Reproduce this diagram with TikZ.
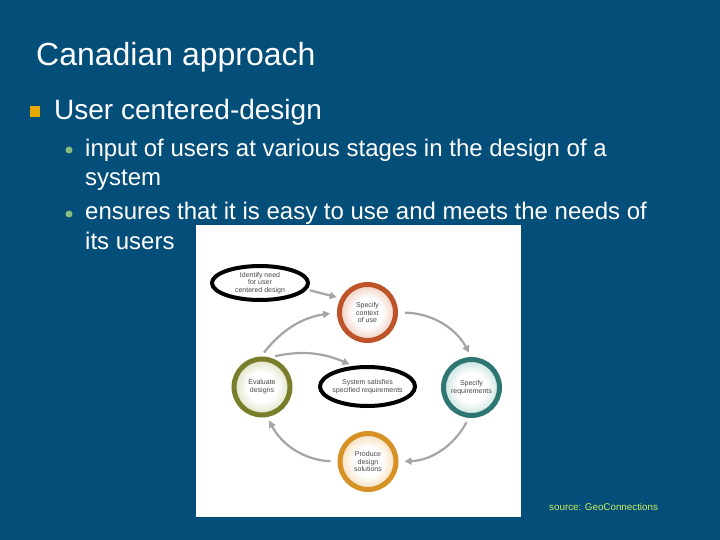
\documentclass[tikz,border=0pt]{standalone}
\usepackage{fontspec}
\setmainfont{Liberation Sans}
\usetikzlibrary{shapes.geometric,arrows.meta}
\definecolor{bgblue}{RGB}{4,78,122}
\definecolor{rust}{RGB}{190,82,40}
\definecolor{olive}{RGB}{122,126,42}
\definecolor{tealc}{RGB}{45,118,114}
\definecolor{gold}{RGB}{214,146,36}
\definecolor{rustpale}{RGB}{240,205,190}
\definecolor{olivepale}{RGB}{222,226,196}
\definecolor{tealpale}{RGB}{200,226,222}
\definecolor{goldpale}{RGB}{246,222,186}
\definecolor{arrgray}{RGB}{165,165,165}
\definecolor{sqyellow}{RGB}{230,170,0}
\definecolor{dotgreen}{RGB}{140,190,130}
\definecolor{srcgreen}{RGB}{205,238,90}
\definecolor{txtgray}{RGB}{70,70,70}
\pgfdeclareradialshading{rustshade}{\pgfpoint{0bp}{0bp}}{color(0bp)=(white); color(13bp)=(white); color(25bp)=(rustpale); color(50bp)=(rustpale)}
\pgfdeclareradialshading{oliveshade}{\pgfpoint{0bp}{0bp}}{color(0bp)=(white); color(13bp)=(white); color(25bp)=(olivepale); color(50bp)=(olivepale)}
\pgfdeclareradialshading{tealshade}{\pgfpoint{0bp}{0bp}}{color(0bp)=(white); color(13bp)=(white); color(25bp)=(tealpale); color(50bp)=(tealpale)}
\pgfdeclareradialshading{goldshade}{\pgfpoint{0bp}{0bp}}{color(0bp)=(white); color(13bp)=(white); color(25bp)=(goldpale); color(50bp)=(goldpale)}
\tikzset{
  bodytext/.style={anchor=base west, inner sep=0, text=white, font=\fontsize{24}{28}\selectfont},
  ring/.style={circle, minimum size=56pt, inner sep=0, line width=5pt, align=center,
    text=txtgray, font=\fontsize{7}{7.8}\selectfont},
  oval/.style={ellipse, draw=black, line width=4pt, fill=white, inner sep=0},
  ovaltext/.style={align=center, text=txtgray, font=\fontsize{7}{7.8}\selectfont, inner sep=0},
  flow/.style={draw=arrgray, line width=2.2pt, -{Triangle[length=7pt,width=7pt]}},
  subdot/.style={circle, fill=dotgreen, minimum size=7pt, inner sep=0}
}
\begin{document}
\begin{tikzpicture}[x=1pt,y=-1pt]
\useasboundingbox (0,0) rectangle (720,540);
\fill[bgblue] (0,0) rectangle (720,540);
% title and bullets
\node[anchor=base west, inner sep=0, text=white, font=\fontsize{32}{38}\selectfont] (title) at (36,66) {Canadian approach};
\node[fill=sqyellow, minimum width=10pt, minimum height=11pt, inner sep=0] (sq) at (34.5,112) {};
\node[anchor=base west, inner sep=0, text=white, font=\fontsize{28}{32}\selectfont] (ucd) at (54,119.5) {User centered-design};
\node[subdot] (d1) at (69,150) {};
\node[bodytext] (l1) at (85,156.5) {input of users at various stages in the design of a};
\node[bodytext] (l2) at (85,185.5) {system};
\node[subdot] (d2) at (69,214) {};
\node[bodytext] (l3) at (85,219.5) {ensures that it is easy to use and meets the needs of};
\node[bodytext] (l4) at (85,249) {its users};
% image panel
\fill[white] (196,225) rectangle (521,517);
% diagram nodes
\node[oval, minimum width=96pt, minimum height=34pt,
  label={[ovaltext]center:Identify need\\for user\\centered design}] (ident) at (260,283) {};
\node[ring, draw=rust, shading=rustshade] (ctx) at (367.5,312.5) {Specify\\context\\of use};
\node[ring, draw=olive, shading=oliveshade] (eval) at (262,387) {Evaluate\\designs};
\node[oval, minimum width=95pt, minimum height=39pt,
  label={[ovaltext]center:System satisfies\\specified requirements}] (sys) at (367.5,386.5) {};
\node[ring, draw=tealc, shading=tealshade] (req) at (471.5,387.5) {Specify\\requirements};
\node[ring, draw=gold, shading=goldshade] (prod) at (368,461.5) {Produce\\design\\solutions};
% connectors
\draw[flow, shorten <=3pt, shorten >=4pt] (ident.-8) -- (ctx.152);
\draw[flow, shorten <=7pt, shorten >=5pt] (ctx.east) to[bend left=30] (req.north);
\draw[flow, shorten <=5pt, shorten >=6pt] (req.-95) to[bend left=30] (prod.east);
\draw[flow, shorten <=7pt, shorten >=4pt] (prod.west) to[bend left=30] (eval.-80);
\draw[flow, shorten <=5pt, shorten >=7pt] (eval.92) to[bend left=22] (ctx.west);
\draw[flow, shorten <=6pt, shorten >=4pt] (eval.76) to[bend left=18] (sys.125);
% source
\node[anchor=west, inner sep=0, text=srcgreen, font=\fontsize{9.8}{11}\selectfont] (src) at (549,506.5) {source: GeoConnections};
\end{tikzpicture}
\end{document}
